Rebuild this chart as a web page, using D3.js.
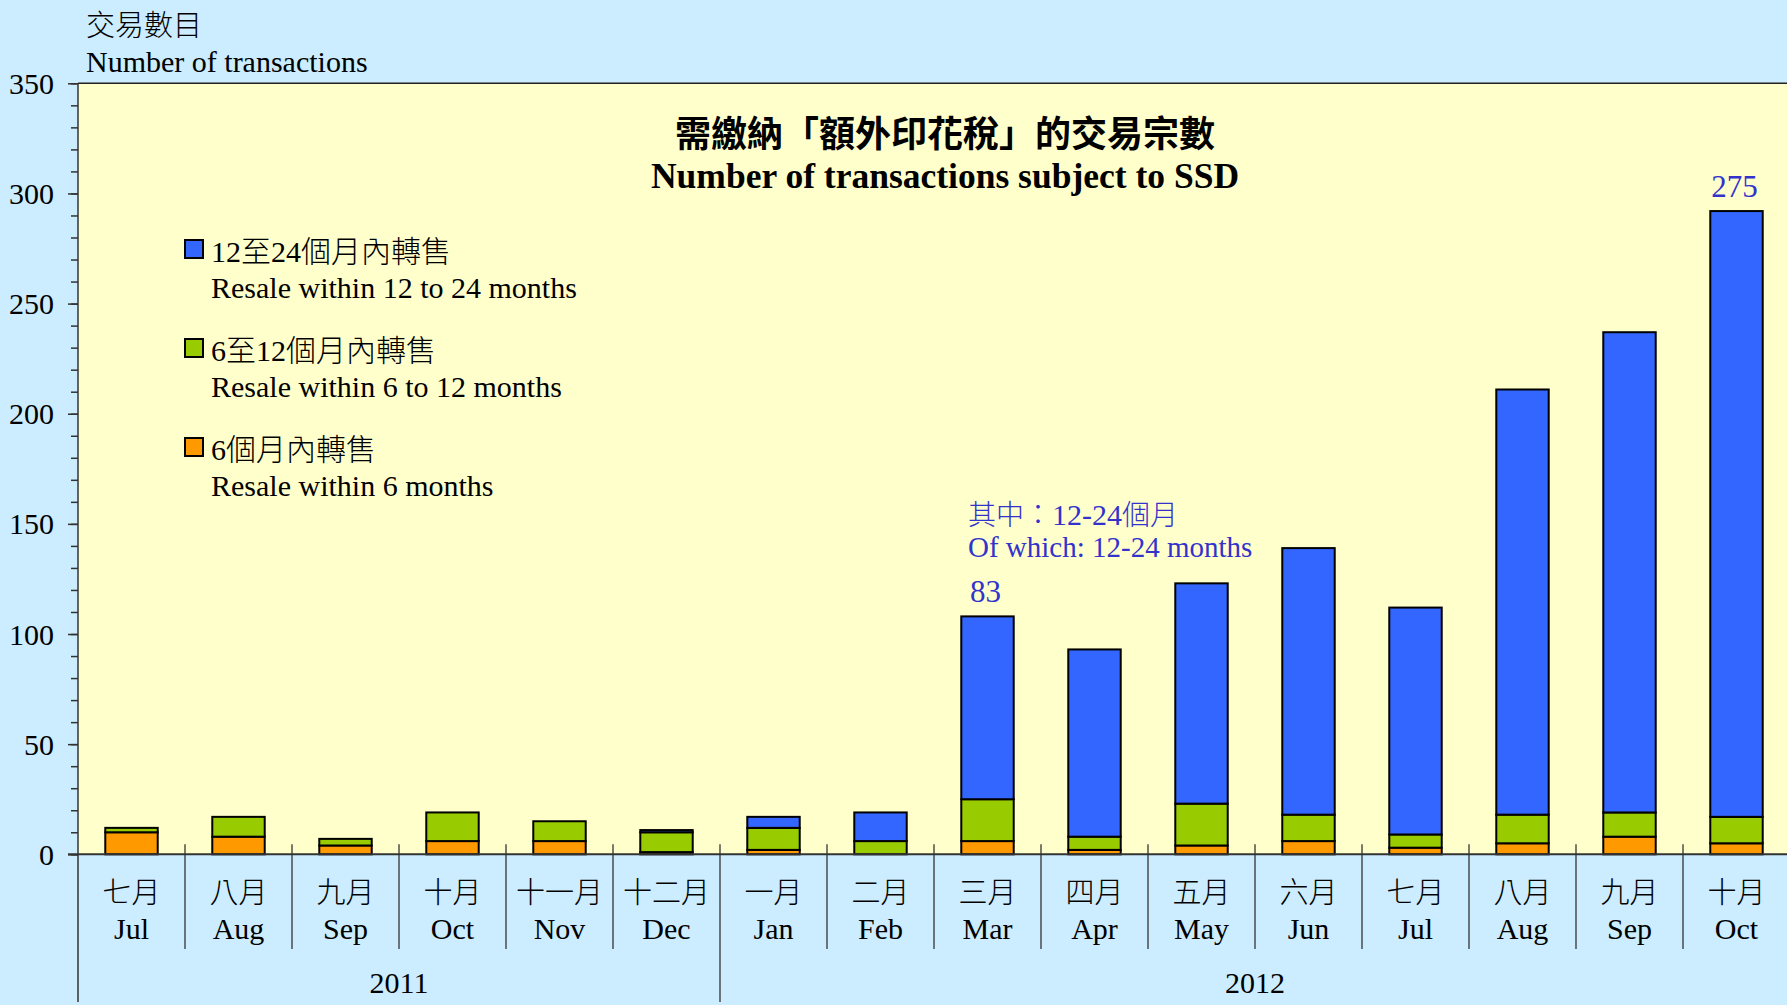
<!DOCTYPE html>
<html>
<head>
<meta charset="utf-8">
<script src="https://cdn.jsdelivr.net/npm/d3@7"></script>
<style>
  html, body { margin: 0; padding: 0; background: #CCECFF; }
  svg { display: block; }
  text { font-family: "Liberation Serif", "Times New Roman", "Noto Sans CJK TC", serif; }
</style>
</head>
<body>
<svg id="chart" width="1787" height="1005"></svg>
<script>
// ---------- data ----------
const monthsZh = ["七月","八月","九月","十月","十一月","十二月","一月","二月","三月","四月","五月","六月","七月","八月","九月","十月"];
const monthsEn = ["Jul","Aug","Sep","Oct","Nov","Dec","Jan","Feb","Mar","Apr","May","Jun","Jul","Aug","Sep","Oct"];
const monthKeys = monthsEn.map((m, i) => (i < 6 ? "2011-" : "2012-") + m);
const years = ["2011", "2012"];
const yearStartIndex = [0, 6];
const yearEndIndex = [5, 15];
const within6 =      [10, 8, 4, 6, 6, 1, 2, 0, 6, 2, 4, 6, 3, 5, 8, 5];
const within6to12 =  [2, 9, 3, 13, 9, 9, 10, 6, 19, 6, 19, 12, 6, 13, 11, 12];
const within12to24 = [0, 0, 0, 0, 0, 1, 5, 13, 83, 85, 100, 121, 103, 193, 218, 275];
const yTicks = [0, 50, 100, 150, 200, 250, 300, 350];
const seriesKeys = ["within6", "within6to12", "within12to24"];
const seriesZh = ["6個月內轉售", "6至12個月內轉售", "12至24個月內轉售"];
const seriesEn = ["Resale within 6 months", "Resale within 6 to 12 months", "Resale within 12 to 24 months"];
const labelledMonths = [8, 15]; // indices with blue value labels
const titleZh = "需繳納「額外印花稅」的交易宗數";
const titleEn = "Number of transactions subject to SSD";

// ---------- layout ----------
const colors = { within6: "#FF9900", within6to12: "#99CC00", within12to24: "#3366FF" };
const annColor = "#3333CC";
const plotLeft = 78, plotRight = 1790, plotTop = 83.3, plotBottom = 854.3;

const svg = d3.select("#chart");
svg.append("rect").attr("width", 1787).attr("height", 1005).attr("fill", "#CCECFF");
svg.append("rect").attr("x", plotLeft).attr("y", plotTop)
  .attr("width", plotRight - plotLeft).attr("height", plotBottom - plotTop).attr("fill", "#FFFFCC");

const x = d3.scaleBand().domain(monthKeys).range([plotLeft, plotRight]).paddingInner(0).paddingOuter(0);
const y = d3.scaleLinear().domain([0, 350]).range([plotBottom, plotTop]);

const table = monthKeys.map((k, i) => ({ key: k, within6: within6[i], within6to12: within6to12[i], within12to24: within12to24[i] }));
const stacked = d3.stack().keys(seriesKeys)(table);

// top border
svg.append("line").attr("x1", plotLeft).attr("x2", plotRight).attr("y1", plotTop).attr("y2", plotTop)
  .attr("stroke", "#222").attr("stroke-width", 1.5);

// y axis: minor ticks
const minorAxis = d3.axisLeft(y).tickValues(d3.range(0, 351, 10)).tickSize(7).tickFormat("");
const gMinor = svg.append("g").attr("transform", `translate(${plotLeft},0)`).call(minorAxis);
gMinor.select(".domain").remove();
gMinor.selectAll("line").attr("stroke", "#333").attr("stroke-width", 1.5);

// y axis: major ticks + labels
const majorAxis = d3.axisLeft(y).tickValues(yTicks).tickSize(10).tickPadding(14);
const gMajor = svg.append("g").attr("transform", `translate(${plotLeft},0)`).call(majorAxis);
gMajor.select(".domain").remove();
gMajor.selectAll("line").attr("stroke", "#333").attr("stroke-width", 1.5);
gMajor.selectAll("text").attr("font-size", 30).attr("fill", "#000")
  .attr("font-family", "Liberation Serif, Times New Roman, serif")
  .attr("dy", null).attr("y", 10);

// bars
const bw = x.bandwidth() * 0.49;
const layers = svg.append("g").selectAll("g").data(stacked).join("g")
  .attr("fill", d => colors[d.key]);
layers.selectAll("rect").data(d => d.filter(s => s[1] - s[0] > 0)).join("rect")
  .attr("x", d => x(d.data.key) + (x.bandwidth() - bw) / 2)
  .attr("width", bw)
  .attr("y", d => y(d[1]))
  .attr("height", d => y(d[0]) - y(d[1]))
  .attr("stroke", "#000").attr("stroke-width", 2);

// zero baseline
svg.append("line").attr("x1", plotLeft - 10).attr("x2", plotRight).attr("y1", y(0)).attr("y2", y(0))
  .attr("stroke", "#333").attr("stroke-width", 2);

// left axis line extending to bottom
svg.append("line").attr("x1", plotLeft).attr("x2", plotLeft).attr("y1", plotTop).attr("y2", 1002)
  .attr("stroke", "#333").attr("stroke-width", 1.5);

// month separators
monthKeys.forEach((k, i) => {
  if (i === 0) return;
  const xx = x(k);
  const isYear = yearStartIndex.includes(i);
  svg.append("line").attr("x1", xx).attr("x2", xx).attr("y1", y(0) - 10).attr("y2", isYear ? 1002 : 949)
    .attr("stroke", "#333").attr("stroke-width", 1.3);
});

// month labels
const gx = svg.append("g");
gx.selectAll("text.zh").data(monthKeys).join("text").attr("class", "zh")
  .attr("x", d => x(d) + x.bandwidth() / 2).attr("y", 903)
  .attr("text-anchor", "middle").attr("font-size", 29)
  .attr("font-family", "Noto Sans CJK TC, sans-serif").attr("font-weight", 300)
  .text((d, i) => monthsZh[i]);
gx.selectAll("text.en").data(monthKeys).join("text").attr("class", "en")
  .attr("x", d => x(d) + x.bandwidth() / 2).attr("y", 939)
  .attr("text-anchor", "middle").attr("font-size", 30)
  .text((d, i) => monthsEn[i]);

// year labels
years.forEach((yr, j) => {
  const x0 = x(monthKeys[yearStartIndex[j]]);
  const x1 = x(monthKeys[yearEndIndex[j]]) + x.bandwidth();
  svg.append("text").attr("x", (x0 + x1) / 2).attr("y", 993).attr("text-anchor", "middle")
    .attr("font-size", 30).text(yr);
});

// axis title
svg.append("text").attr("x", 86).attr("y", 36).attr("font-size", 29)
  .attr("font-family", "Noto Sans CJK TC, sans-serif").attr("font-weight", 300).text("交易數目");
svg.append("text").attr("x", 86).attr("y", 72).attr("font-size", 30).text("Number of transactions");

// chart title
svg.append("text").attr("x", 945).attr("y", 147).attr("text-anchor", "middle")
  .attr("font-size", 36).attr("font-weight", "bold")
  .attr("font-family", "Noto Sans CJK TC, sans-serif").text(titleZh);
svg.append("text").attr("x", 945).attr("y", 188).attr("text-anchor", "middle")
  .attr("font-size", 35.5).attr("font-weight", "bold").text(titleEn);

// legend (top to bottom: 12-24, 6-12, 6)
const legendOrder = [2, 1, 0];
legendOrder.forEach((si, r) => {
  const top = 240 + r * 99;
  svg.append("rect").attr("x", 185).attr("y", top).attr("width", 18).attr("height", 18)
    .attr("fill", colors[seriesKeys[si]]).attr("stroke", "#000").attr("stroke-width", 2);
  const zh = svg.append("text").attr("x", 211).attr("y", top + 22).attr("font-size", 30);
  const parts = seriesZh[si].split(/([0-9]+)/).filter(s => s.length);
  parts.forEach(p => {
    const isNum = /^[0-9]+$/.test(p);
    zh.append("tspan").text(p)
      .attr("font-family", isNum ? "Liberation Serif, serif" : "Noto Sans CJK TC, sans-serif")
      .attr("font-weight", isNum ? null : 300);
  });
  svg.append("text").attr("x", 211).attr("y", top + 58).attr("font-size", 30).text(seriesEn[si]);
});

// annotation
const ann = svg.append("text").attr("x", 968).attr("y", 525).attr("font-size", 28).attr("fill", annColor);
ann.append("tspan").attr("font-family", "Noto Sans CJK TC, sans-serif").attr("font-weight", 300).text("其中：");
ann.append("tspan").attr("font-family", "Liberation Serif, serif").attr("font-size", 30).text("12-24");
ann.append("tspan").attr("font-family", "Noto Sans CJK TC, sans-serif").attr("font-weight", 300).text("個月");
svg.append("text").attr("x", 968).attr("y", 557).attr("font-size", 29).attr("fill", annColor)
  .text("Of which: 12-24 months");

// value labels
labelledMonths.forEach(i => {
  const total = within6[i] + within6to12[i] + within12to24[i];
  svg.append("text").attr("x", x(monthKeys[i]) + x.bandwidth() / 2 - 2).attr("y", y(total) - 14)
    .attr("text-anchor", "middle").attr("font-size", 31).attr("fill", annColor)
    .text(within12to24[i]);
});
</script>
</body>
</html>
